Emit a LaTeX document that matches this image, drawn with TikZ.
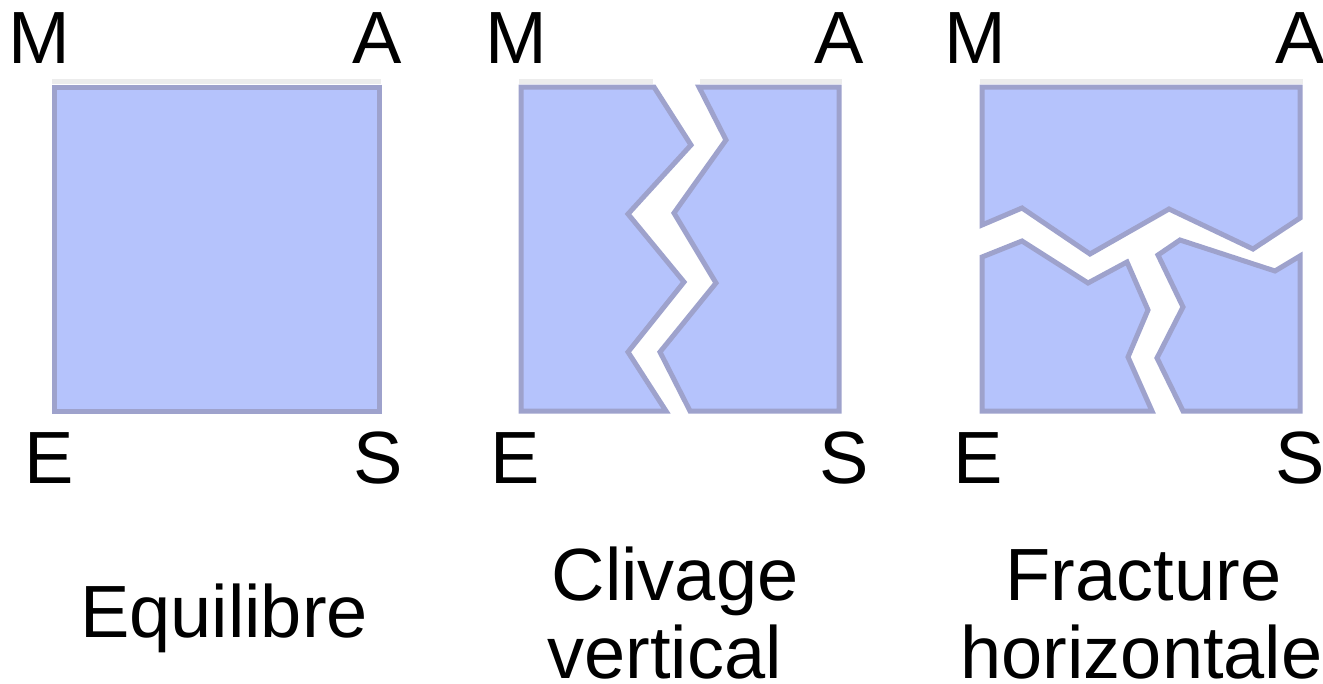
\documentclass[tikz,border=0pt]{standalone}
\usepackage{fontspec}
\setmainfont{Liberation Sans}
\definecolor{blockfill}{RGB}{181,195,252}
\definecolor{blockedge}{RGB}{158,162,204}
\definecolor{haze}{RGB}{236,236,236}
\tikzset{
  piece/.style={fill=blockfill, draw=blockedge, line width=5pt, line join=miter},
  lab/.style={inner sep=0pt, anchor=base, font=\fontsize{74}{78}\selectfont},
  hazeline/.style={draw=haze, line width=5pt}
}
\begin{document}
\begin{tikzpicture}[x=1pt,y=-1pt]
\useasboundingbox (0,0) rectangle (1323,683);
% haze lines above the blocks
\draw[hazeline] (52,81) -- (381,81);
\draw[hazeline] (519,81) -- (653,81) (700,81) -- (842,81);
\draw[hazeline] (980,81) -- (1303,81);
% Equilibre block
\path[piece] (54,87) rectangle (379,411);
% Clivage vertical
\path[piece] (521,87) -- (654,87) -- (691,145) -- (628,214) -- (684,282) -- (628,352) -- (666,411) -- (521,411) -- cycle;
\path[piece] (699,87) -- (839,87) -- (839,411) -- (690,411) -- (660,352) -- (716,283) -- (674,213) -- (726,140) -- cycle;
% Fracture horizontale
\path[piece] (982,87) -- (1300,87) -- (1300,218) -- (1253,249) -- (1169,209) -- (1090,254) -- (1022,208) -- (982,225) -- cycle;
\path[piece] (982,257) -- (1022,241) -- (1088,283) -- (1127,262) -- (1148,310) -- (1128,357) -- (1152,411) -- (982,411) -- cycle;
\path[piece] (1158,255) -- (1180,240) -- (1275,271) -- (1300,256) -- (1300,411) -- (1183,411) -- (1157,358) -- (1183,307) -- cycle;
% corner labels
\node[lab] (m1) at (39,63) {M};
\node[lab] (a1) at (377.5,63) {A};
\node[lab] (e1) at (49.5,483) {E};
\node[lab] (s1) at (378.5,483) {S};
\node[lab] (m2) at (516,63) {M};
\node[lab] (a2) at (839,63) {A};
\node[lab] (e2) at (515,483) {E};
\node[lab] (s2) at (844.5,483) {S};
\node[lab] (m3) at (975.5,63) {M};
\node[lab] (a3) at (1300,63) {A};
\node[lab] (e3) at (978,483) {E};
\node[lab] (s3) at (1300.5,483) {S};
% captions
\node[lab] (cap1) at (224,637) {Equilibre};
\node[lab] (cap2a) at (675,600) {Clivage};
\node[lab, text depth=0pt] (cap2b) at (664.5,678) {vertical};
\node[lab] (cap3a) at (1143.5,600) {Fracture};
\node[lab, text depth=0pt] (cap3b) at (1141.5,678) {horizontale};
\end{tikzpicture}
\end{document}
